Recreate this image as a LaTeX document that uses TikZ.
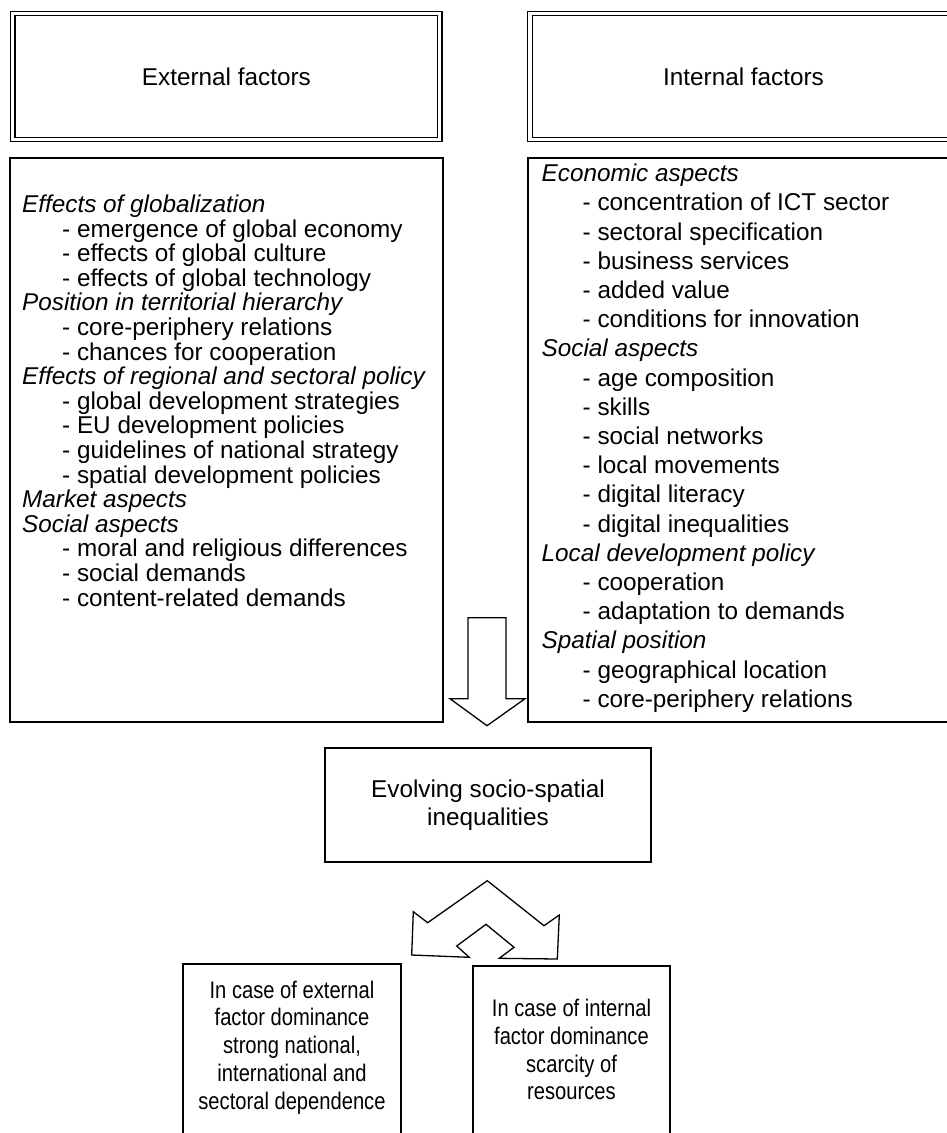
\documentclass[tikz,border=0pt]{standalone}
\usepackage{fontspec}
\setmainfont{Liberation Sans}
\newfontfamily\narrowsf[FakeStretch=0.84]{Liberation Sans}
\usetikzlibrary{calc}

\begin{document}
\begin{tikzpicture}[x=1pt,y=-1pt,
  titlebox/.style={draw,double,double distance=3.1pt,line width=1.3pt,minimum width=427pt,minimum height=126pt,inner sep=0pt,font=\fontsize{24.3}{28}\selectfont},
  listbox/.style={draw,line width=1.5pt,minimum width=433pt,minimum height=564pt,inner sep=0pt},
  listtext/.style={anchor=base west,align=left,inner sep=0pt},
  midbox/.style={draw,line width=2.6pt,minimum width=326pt,minimum height=114pt,inner sep=0pt,align=center,font=\fontsize{24.3}{28}\selectfont},
  casebox/.style={draw,line width=1.5pt,minimum height=200pt,inner sep=0pt,anchor=north},
  casetext/.style={anchor=base,align=center,inner sep=0pt,font=\narrowsf\fontsize{24}{27.8}\selectfont},
  blockarrow/.style={draw,fill=white,line width=1.3pt,line join=miter}]
\useasboundingbox (0,0) rectangle (947,1133);
\fill[white] (0,0) rectangle (947,1133);
\clip (0,0) rectangle (947,1133);

\node[titlebox] (exttitle) at (226.4,76.5) {External factors};
\node[titlebox] (inttitle) at (743.5,76.5) {Internal factors};

\node[listbox] (extbody) at (226.5,440) {};
\node[listbox] (intbody) at (744.5,440) {};

\node[listtext,font=\fontsize{24.3}{24.6}\selectfont] (extlist) at (22,606.1) {%
\textit{Effects of globalization}\\
\hspace*{40pt}- emergence of global economy\\
\hspace*{40pt}- effects of global culture\\
\hspace*{40pt}- effects of global technology\\
\textit{Position in territorial hierarchy}\\
\hspace*{40pt}- core-periphery relations\\
\hspace*{40pt}- chances for cooperation\\
\textit{Effects of regional and sectoral policy}\\
\hspace*{40pt}- global development strategies\\
\hspace*{40pt}- EU development policies\\
\hspace*{40pt}- guidelines of national strategy\\
\hspace*{40pt}- spatial development policies\\
\textit{Market aspects}\\
\textit{Social aspects}\\
\hspace*{40pt}- moral and religious differences\\
\hspace*{40pt}- social demands\\
\hspace*{40pt}- content-related demands};

\node[listtext,font=\fontsize{24.3}{29.2}\selectfont] (intlist) at (541.5,707.3) {%
\textit{Economic aspects}\\
\hspace*{41pt}- concentration of ICT sector\\
\hspace*{41pt}- sectoral specification\\
\hspace*{41pt}- business services\\
\hspace*{41pt}- added value\\
\hspace*{41pt}- conditions for innovation\\
\textit{Social aspects}\\
\hspace*{41pt}- age composition\\
\hspace*{41pt}- skills\\
\hspace*{41pt}- social networks\\
\hspace*{41pt}- local movements\\
\hspace*{41pt}- digital literacy\\
\hspace*{41pt}- digital inequalities\\
\textit{Local development policy}\\
\hspace*{41pt}- cooperation\\
\hspace*{41pt}- adaptation to demands\\
\textit{Spatial position}\\
\hspace*{41pt}- geographical location\\
\hspace*{41pt}- core-periphery relations};

\node[midbox] (mid) at (488,805) {Evolving socio-spatial\\inequalities};

\coordinate (dtip) at ($(mid.north)+(-1,-21)$);
\draw[blockarrow] (dtip) -- ++(-37,-27) -- ++(18,0) -- ++(0,-81) -- ++(38,0)
  -- ++(0,81) -- ++(19,0) -- cycle;

\draw[blockarrow] (487.3,880.7) -- (427.7,922.7) -- (413.3,911.7) -- (411.7,955)
  -- (469.3,957.3) -- (456.7,946) -- (486,924.3) -- (514,947.3) -- (499.3,958.3)
  -- (557.3,959) -- (559.3,915) -- (544,925.7) -- cycle;

\node[casebox,minimum width=218pt] (extcase) at (292,963) {};
\node[casebox,minimum width=197pt] (intcase) at (571.5,965) {};
\node[casetext] (extcasetext) at (292,1109.2) {In case of external\\factor dominance\\strong national,\\international and\\sectoral dependence};
\node[casetext] (intcasetext) at (571.5,1099.9) {In case of internal\\factor dominance\\scarcity of\\resources};
\end{tikzpicture}
\end{document}
